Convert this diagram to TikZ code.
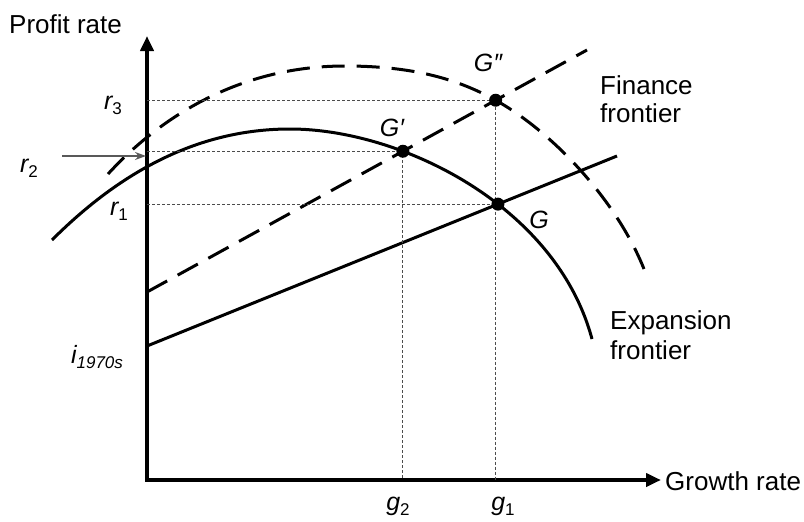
\documentclass[tikz,border=0pt]{standalone}
\usepackage{fontspec}
\setmainfont{Liberation Sans}
\usetikzlibrary{arrows.meta,intersections}
\newcommand{\lsub}[1]{\raisebox{-5pt}{\fontsize{17}{17}\selectfont #1}}
\begin{document}
\begin{tikzpicture}[x=1pt,y=-1pt,
  axis/.style={line width=4pt,line join=miter,{Triangle[length=15pt,width=13pt]}-{Triangle[length=15pt,width=13pt]}},
  curve/.style={line width=3pt},
  dashcurve/.style={line width=3pt,dash pattern=on 23pt off 12pt},
  guide/.style={line width=0.9pt,black!70,dash pattern=on 3pt off 2pt},
  dot/.style={circle,fill=black,inner sep=0pt,minimum size=13pt},
  lab/.style={inner sep=0pt,font=\fontsize{26}{28}\selectfont},
  ilab/.style={inner sep=0pt,font=\fontsize{25}{28}\selectfont\itshape}]
\useasboundingbox (0,0) rectangle (804,522);

% axes
\coordinate (O) at (147,480);
\coordinate (ytip) at (147,36);
\coordinate (xtip) at (661,480);
\draw[axis] (ytip) -- (O) -- (xtip);
\node[lab,anchor=base west] (ylab) at (9,33) {Profit rate};
\node[lab,anchor=base west] (xlab) at (665,490) {Growth rate};

% expansion frontier
\draw[curve,name path=exp] (52,240) .. controls (122,170) and (200,129) .. (290,129)
  .. controls (400,129) and (556,205) .. (592,339);

% finance frontier
\draw[dashcurve,name path=fin] (108,174) .. controls (165,112) and (245,66) .. (345,66)
  .. controls (415,66) and (460,80) .. (497,101)
  .. controls (557,135) and (622,207) .. (647,277);

% interest-rate lines
\coordinate (iA) at (147,346);
\coordinate (iB) at (617,156);
\draw[curve,name path=iline] (iA) -- (iB);
\coordinate (jA) at (147,292);
\coordinate (jB) at (587,50);
\draw[dashcurve,name path=jline] (jA) -- (jB);

% intersection points
\path[name intersections={of=exp and iline,by={Gpt}}];
\path[name intersections={of=exp and jline,by={Gppt}}];
\path[name intersections={of=fin and jline,by={Gpppt}}];

% guide lines
\draw[guide] (O |- Gpppt) -- (Gpppt) -- (Gpppt |- O);
\draw[guide] (O |- Gppt) -- (Gppt) -- (Gppt |- O);
\draw[guide] (O |- Gpt) -- (Gpt);

% equilibrium points
\node[dot] (Gpp) at (Gpppt) {};
\node[dot] (Gp) at (Gppt) {};
\node[dot] (G) at (Gpt) {};

% r2 arrow
\coordinate (r2tail) at (62,156);
\coordinate (r2head) at (146,156);
\draw[black!65,line width=1.3pt,-{Stealth[length=11pt,width=8pt]}] (r2tail) -- (r2head);

% labels
\node[ilab] (r3) at (113,105) {r\lsub{\upshape 3}};
\node[ilab] (r2) at (29,168) {r\lsub{\upshape 2}};
\node[ilab] (r1) at (119,211) {r\lsub{\upshape 1}};
\node[ilab] (ilab) at (97,357) {i\lsub{1970s}};
\node[ilab] (g2) at (398,506) {g\lsub{\upshape 2}};
\node[ilab] (g1) at (503,506) {g\lsub{\upshape 1}};
\node[ilab] (Gpplab) at (488,63) {G″};
\node[ilab] (Gplab) at (392,128) {G′};
\node[ilab] (Glab) at (539,220) {G};
\node[lab,align=left,anchor=north west] (fin) at (600,75) {Finance\\frontier};
\node[lab,align=left,anchor=north west,font=\fontsize{26}{30}\selectfont] (exp) at (610,310) {Expansion\\frontier};
\end{tikzpicture}
\end{document}
